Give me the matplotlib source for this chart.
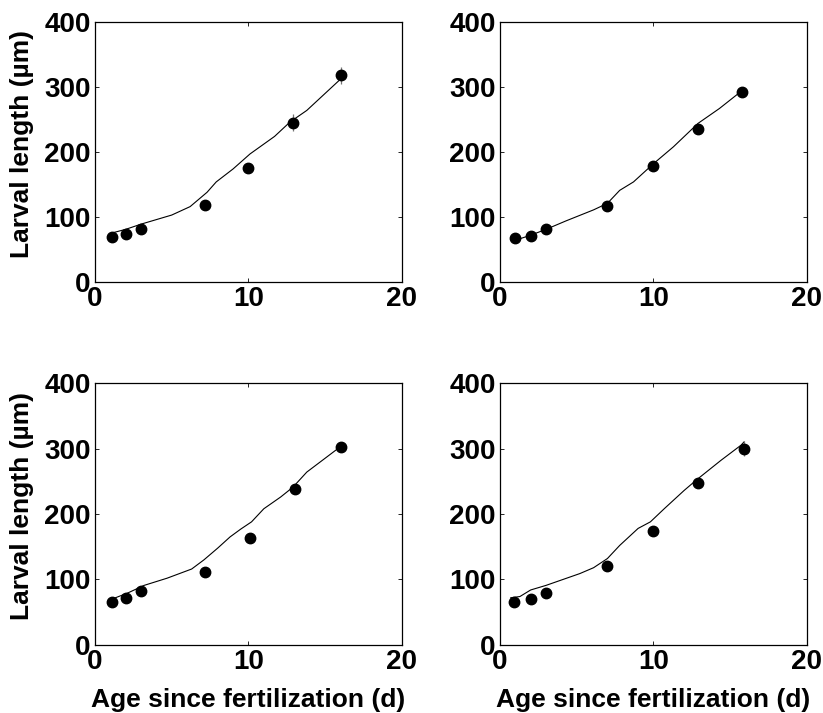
import matplotlib

matplotlib.use("Agg")
import matplotlib.pyplot as plt

plt.rcParams["font.family"] = ["Liberation Sans", "DejaVu Sans"]
plt.rcParams["font.weight"] = "bold"

# Observed mean larval length (um) by age (d), one series per panel
age_obs = [
    [1.1, 2.0, 3.0, 7.2, 10.0, 12.9, 16.0],
    [1.0, 2.0, 3.0, 7.0, 10.0, 12.9, 15.8],
    [1.1, 2.0, 3.0, 7.2, 10.1, 13.0, 16.0],
    [0.9, 2.0, 3.0, 7.0, 10.0, 12.9, 15.9],
]
length_obs = [
    [69, 74, 81, 118, 175, 245, 318],
    [67, 71, 82, 117, 179, 236, 293],
    [66, 72, 82, 111, 164, 238, 302],
    [65, 70, 79, 120, 174, 247, 300],
]
length_err = [
    [3, 3, 3, 4, 5, 13, 13],
    [3, 3, 3, 4, 5, 6, 6],
    [3, 3, 3, 4, 5, 6, 6],
    [3, 3, 3, 4, 5, 6, 12],
]

# Model growth curves
age_model = [
    [1.2, 2.0, 3.0, 4.0, 5.0, 6.2, 7.3, 7.9, 9.0, 10.1, 11.7, 12.7, 13.8, 15.9],
    [1.1, 2.0, 3.0, 4.3, 6.1, 7.0, 7.8, 8.7, 10.0, 11.3, 12.9, 14.3, 15.8],
    [1.1, 2.1, 3.2, 4.7, 6.3, 7.1, 8.0, 8.8, 9.5, 10.2, 11.0, 12.1, 12.9, 13.8, 15.1, 16.0],
    [0.7, 1.3, 2.0, 3.0, 5.2, 6.1, 7.0, 7.8, 9.0, 9.8, 10.7, 12.0, 12.8, 14.4, 15.7, 15.9],
]
length_model = [
    [76, 81, 89, 96, 103, 116, 138, 154, 174, 197, 224, 246, 264, 310],
    [65, 72, 81, 94, 111, 121, 141, 154, 182, 208, 244, 267, 295],
    [70, 79, 91, 102, 116, 130, 148, 165, 177, 188, 208, 226, 241, 264, 287, 303],
    [72, 74, 84, 91, 109, 118, 132, 152, 178, 188, 208, 236, 252, 282, 305, 310],
]

x_ticks = [0, 10, 20]
y_ticks = [0, 100, 200, 300, 400]

fig = plt.figure(figsize=(8.23, 7.13), dpi=100)
positions = [
    [0.1154, 0.6045, 0.3730, 0.3646],
    [0.6075, 0.6045, 0.3730, 0.3646],
    [0.1154, 0.0954, 0.3730, 0.3674],
    [0.6075, 0.0954, 0.3730, 0.3674],
]

for i, pos in enumerate(positions):
    ax = fig.add_axes(pos)
    ax.plot(age_model[i], length_model[i], color="black", lw=0.8, zorder=2)
    ax.errorbar(age_obs[i], length_obs[i], yerr=length_err[i], fmt="o",
                color="black", ms=7.5, ecolor="0.45", elinewidth=0.9,
                capsize=0, zorder=3)
    ax.set_xlim(0, 20)
    ax.set_ylim(0, 400)
    ax.set_xticks(x_ticks)
    ax.set_yticks(y_ticks)
    ax.tick_params(direction="in", top=True, right=True, length=3,
                   width=0.6, labelsize=20, pad=3)
    for lab in ax.get_xticklabels() + ax.get_yticklabels():
        lab.set_fontweight("bold")
    for sp in ax.spines.values():
        sp.set_linewidth(0.9)
    if i % 2 == 0:
        ax.set_ylabel("Larval length (µm)", fontsize=19, fontweight="bold")
        ax.yaxis.set_label_coords(-0.20, 0.53)
    if i >= 2:
        ax.set_xlabel("Age since fertilization (d)", fontsize=19,
                      fontweight="bold", labelpad=9)

fig.savefig("out.png", dpi=100)
